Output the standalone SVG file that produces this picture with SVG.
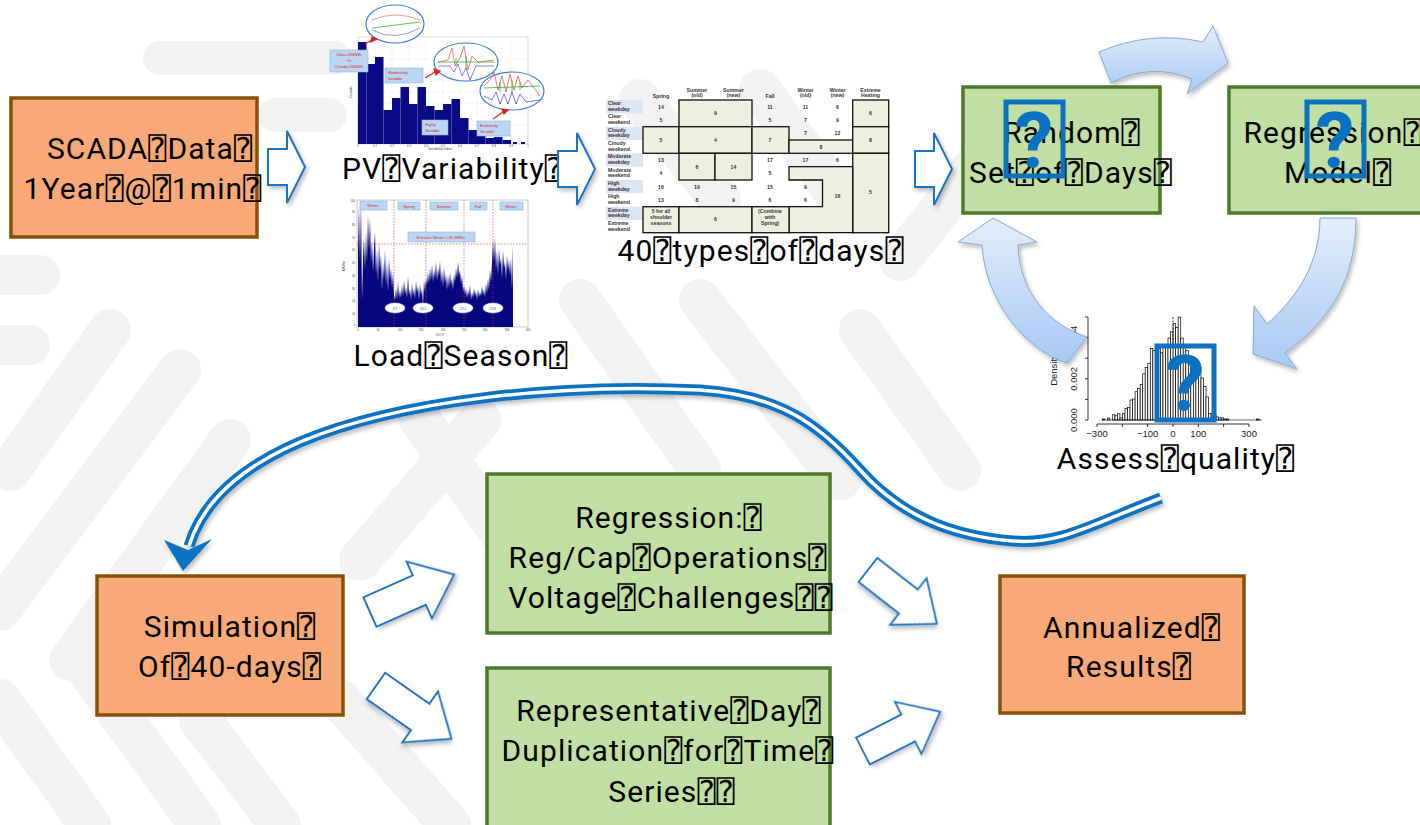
<svg xmlns="http://www.w3.org/2000/svg" width="1420" height="825" viewBox="0 0 1420 825">
<style>
.lbl{font-family:Roboto,'DejaVu Sans Mono','DejaVu Sans',sans-serif;font-size:30px;fill:#000;text-anchor:middle;letter-spacing:1.1px}
.orange{fill:#f8a977;stroke:#875208;stroke-width:3.5}
.green{fill:#c2dfa3;stroke:#4c7a28;stroke-width:3.5}
.blk{fill:#fff;stroke:#1a74c2;stroke-width:2;filter:url(#sh)}
.qbox{fill:none;stroke:#0a72c1;stroke-width:5}
.q{font-family:Roboto,'Open Sans',sans-serif;font-weight:bold;font-size:78px;fill:#0a72c1;text-anchor:middle}
.tt{font-family:'Liberation Sans',Arial,sans-serif;font-weight:bold;font-size:5.2px;fill:#333;text-anchor:middle}
.tl{font-family:'Liberation Sans',Arial,sans-serif;font-weight:bold;font-size:5.2px;fill:#333}
.cell{fill:#ebf1de;stroke:#111;stroke-width:1.3}
.tiny{font-family:'Liberation Sans',Arial,sans-serif;font-size:4px;fill:#e02020;text-anchor:middle}
.ax{font-family:'Liberation Sans',Arial,sans-serif;font-size:4px;fill:#444;text-anchor:middle}
.hax{font-family:'Liberation Sans',Arial,sans-serif;font-size:9.5px;fill:#222;text-anchor:middle}
.bg{stroke:#f2f2f2;stroke-linecap:round;fill:none}
.lbbox{fill:#b9d6f2;stroke:#8fb5e0;stroke-width:0.6}
.curv{fill:url(#gb);stroke:#8ba9cc;stroke-width:1;filter:url(#sh)}
</style>
<defs>
<filter id="sh" x="-20%" y="-20%" width="150%" height="150%"><feDropShadow dx="2" dy="3" stdDeviation="2" flood-color="#000" flood-opacity="0.25"/></filter>
<linearGradient id="gb" x1="0" y1="0" x2="0" y2="1"><stop offset="0" stop-color="#e3eefc"/><stop offset="1" stop-color="#a6c8f4"/></linearGradient>
<path id="rarrow" d="M0,-18 L19,-18 L19,-36 L37,0 L19,36 L19,18 L0,18 Z"/>
<path id="darrow" d="M0,-16 L54,-16 L54,-31 L92,0 L54,31 L54,16 L0,16 Z"/>
</defs>
<rect width="1420" height="825" fill="#fff"/>
<g id="background">
<path class="bg" stroke-width="34" d="M160,58 L335,58"/>
<path class="bg" stroke-width="34" d="M275,115 L330,115"/>
<path class="bg" stroke-width="40" d="M0,275 L40,275"/>
<path class="bg" stroke-width="40" d="M0,345 L30,345"/>
<path class="bg" stroke-width="42" d="M10,470 L110,330"/>
<path class="bg" stroke-width="42" d="M0,610 L180,370"/>
<path class="bg" stroke-width="42" d="M70,660 L230,440"/>
<path class="bg" stroke-width="42" d="M80,660 L200,825"/>
<path class="bg" stroke-width="42" d="M200,720 L280,825"/>
<path class="bg" stroke-width="42" d="M0,700 L90,825"/>
<path class="bg" stroke-width="42" d="M360,560 L480,420"/>
<path class="bg" stroke-width="42" d="M340,700 L450,825"/>
<path class="bg" stroke-width="42" d="M420,420 L520,560"/>
<path class="bg" stroke-width="42" d="M580,300 L700,470"/>
<path class="bg" stroke-width="42" d="M700,300 L840,480"/>
<path class="bg" stroke-width="42" d="M860,330 L960,470"/>
<path class="bg" stroke-width="42" d="M900,260 L980,160"/>
<path class="bg" stroke-width="42" d="M640,100 L720,200"/>
<path class="bg" stroke-width="42" d="M760,90 L840,200"/>
</g>

<g id="scada">
<rect class="orange" x="11" y="98" width="246" height="139"/>
<text class="lbl" x="150" y="159">SCADA⍰Data⍰</text>
<text class="lbl" x="143" y="199">1Year⍰@⍰1min⍰</text>
</g>

<g id="pv-variability">
<rect x="355" y="8" width="212" height="146" fill="#fff"/>
<rect x="358" y="37" width="170" height="107" fill="#fff" stroke="#bbb" stroke-width="0.5"/>
<g stroke="#e4e4e4" stroke-width="0.4">
<path d="M375,37V144M392,37V144M409,37V144M426,37V144M443,37V144M460,37V144M477,37V144M494,37V144M511,37V144M358,48H528M358,59H528M358,70H528M358,81H528M358,92H528M358,103H528M358,114H528M358,125H528M358,136H528"/>
</g>
<g fill="#0a0a86">
<rect x="358" y="42" width="8.5" height="102"/>
<rect x="366.5" y="64" width="8.5" height="80"/>
<rect x="375" y="57" width="8.5" height="87"/>
<rect x="383.5" y="110" width="8.5" height="34"/>
<rect x="392" y="98" width="8.5" height="46"/>
<rect x="400.5" y="87" width="8.5" height="57"/>
<rect x="409" y="104" width="8.5" height="40"/>
<rect x="417.5" y="87" width="8.5" height="57"/>
<rect x="426" y="106" width="8.5" height="38"/>
<rect x="434.5" y="110" width="8.5" height="34"/>
<rect x="443" y="104" width="8.5" height="40"/>
<rect x="451.5" y="99" width="8.5" height="45"/>
<rect x="460" y="118" width="8.5" height="26"/>
<rect x="468.5" y="130" width="8.5" height="14"/>
<rect x="477" y="125" width="8.5" height="19"/>
<rect x="485.5" y="138" width="8.5" height="6"/>
<rect x="494" y="137" width="8.5" height="7"/>
<rect x="502.5" y="140" width="8.5" height="4"/>
<rect x="513" y="142" width="4" height="2"/>
<rect x="521" y="142" width="4" height="2"/>
</g>
<text class="ax" x="440" y="150.3" style="font-size:3.4px">Variability Index</text>
<text class="ax" transform="translate(352,92) rotate(-90)">Counts</text>
<g class="ax" style="font-size:2.8px">
<text x="358" y="146.6">0</text><text x="375" y="146.6">0.1</text><text x="392" y="146.6">0.2</text><text x="409" y="146.6">0.3</text><text x="426" y="146.6">0.4</text><text x="443" y="146.6">0.5</text><text x="460" y="146.6">0.6</text><text x="477" y="146.6">0.7</text><text x="494" y="146.6">0.8</text><text x="511" y="146.6">0.9</text><text x="528" y="146.6">1</text>
</g>
<g fill="#fff" stroke="#3b7fd6" stroke-width="1.2">
<ellipse cx="395" cy="24" rx="29" ry="19"/>
<ellipse cx="466" cy="62" rx="32" ry="19"/>
<ellipse cx="512" cy="91" rx="32" ry="19"/>
</g>
<g fill="none" stroke-width="0.8">
<path d="M372,20 Q395,10 420,20" stroke="#f08080"/>
<path d="M372,30 Q395,42 420,28" stroke="#8080f0"/>
<path d="M372,28 L420,22" stroke="#40b040"/>
<path d="M438,62 L448,60 L452,48 L455,66 L460,58 L464,46 L468,70 L472,56 L478,62 L494,60" stroke="#f06060"/>
<path d="M438,66 L450,66 L454,72 L458,64 L462,76 L466,68 L470,80 L476,66 L494,66" stroke="#6060f0"/>
<path d="M438,62 L494,62 M456,58 V66 M466,56 V70" stroke="#30b030"/>
<path d="M484,86 L490,80 L494,72 L498,90 L502,76 L506,92 L510,74 L514,90 L518,76 L522,88 L528,80 L540,96" stroke="#f05050"/>
<path d="M484,96 L492,100 L496,92 L500,104 L504,94 L508,104 L512,92 L516,104 L520,94 L526,102 L540,100" stroke="#5050f0"/>
<path d="M484,88 L540,86 M500,82 V92 M512,80 V94 M520,82 V90" stroke="#30b030"/>
</g>
<rect class="lbbox" x="330" y="50" width="38" height="22"/>
<text class="tiny" x="349" y="56">Clear&gt;25MWh</text>
<text class="tiny" x="349" y="62">Or</text>
<text class="tiny" x="349" y="68">Cloudy&lt;10MWh</text>
<rect class="lbbox" x="385" y="68" width="38" height="15"/>
<text class="tiny" x="388" y="74" style="text-anchor:start">Moderately</text>
<text class="tiny" x="388" y="80" style="text-anchor:start">Variable</text>
<rect class="lbbox" x="422" y="120" width="26" height="15" fill="#6a7ac8"/>
<text class="tiny" x="425" y="126" style="text-anchor:start">Highly</text>
<text class="tiny" x="425" y="132" style="text-anchor:start">Variable</text>
<rect class="lbbox" x="477" y="121" width="33" height="15"/>
<text class="tiny" x="480" y="127" style="text-anchor:start">Extremely</text>
<text class="tiny" x="480" y="133" style="text-anchor:start">Variable</text>
<g stroke="#e02020" stroke-width="1.2" fill="#e02020">
<path d="M365,44 L372,40"/><path d="M372,37 L377,39 L371,42Z"/>
<path d="M425,78 L435,72"/><path d="M434,69 L440,71 L436,75Z"/>
<path d="M493,119 L503,112"/><path d="M502,109 L508,110 L504,114Z"/>
</g>
<text class="lbl" x="453" y="179">PV⍰Variability⍰</text>
</g>

<g id="load-season">
<rect x="330" y="197" width="200" height="141" fill="#fff"/>
<rect x="357" y="200" width="171" height="127" fill="#fff" stroke="#999" stroke-width="0.5"/>
<path fill="#07077f" d="M358,327 L358,250 359,205 360,262 361,200 362,300 363,258 364,238 365,270 366,232 367,262 368,214 369,250 370,218 371,262 372,240 373,272 374,248 375,232 376,275 377,250 378,282 379,243 380,270 381,255 382,290 383,262 384,280 385,250 386,285 387,262 388,292 389,258 390,280 391,268 392,288 393,272 394,295 395,300 396,288 397,299 398,282 399,298 400,290 401,298 402,285 403,296 404,280 405,294 406,287 407,298 408,276 409,295 410,289 411,300 412,283 413,296 414,288 415,299 416,281 417,293 418,286 419,300 420,284 421,295 422,289 423,305 424,280 425,292 426,278 427,285 428,272 429,283 430,268 431,280 432,265 433,282 434,270 435,278 436,262 437,281 438,268 439,276 440,261 441,283 442,270 443,287 444,267 445,283 446,274 447,290 448,275 449,288 450,272 451,285 452,278 453,290 454,274 455,282 456,268 457,278 458,262 459,276 460,270 461,284 462,275 463,292 464,285 465,295 466,288 467,298 468,290 469,296 470,285 471,300 472,292 473,298 474,288 475,296 476,291 477,300 478,289 479,297 480,292 481,296 482,286 483,295 484,289 485,297 486,283 487,293 488,278 489,290 490,270 491,282 492,262 493,240 494,262 495,238 496,270 497,250 498,275 499,248 500,265 501,258 502,278 503,250 504,268 505,262 506,280 507,255 508,270 509,260 510,276 511,258 512,290 513,244 513,327 Z"/>
<g stroke="#e03030" stroke-width="0.6" stroke-dasharray="1.5,1.5">
<path d="M394,200V327M426,200V327M464,200V327M493,200V327M357,244H528"/>
</g>
<rect class="lbbox" x="360" y="201" width="27" height="9"/>
<rect class="lbbox" x="398" y="202" width="22" height="8"/>
<rect class="lbbox" x="430" y="202" width="28" height="8"/>
<rect class="lbbox" x="470" y="202" width="17" height="8"/>
<rect class="lbbox" x="500" y="202" width="23" height="8"/>
<rect class="lbbox" x="408" y="232" width="67" height="10"/>
<text class="tiny" x="373" y="207">Winter</text>
<text class="tiny" x="409" y="207.5">Spring</text>
<text class="tiny" x="444" y="207.5">Summer</text>
<text class="tiny" x="478" y="207.5">Fall</text>
<text class="tiny" x="511" y="207.5">Winter</text>
<text class="tiny" x="441" y="238.5">Extreme Winter &gt; 65 MWhr</text>
<g fill="#fff" stroke="#dde" stroke-width="0.5">
<ellipse cx="395" cy="308" rx="10" ry="5"/><ellipse cx="423" cy="308" rx="10" ry="5"/><ellipse cx="463" cy="308" rx="10" ry="5"/><ellipse cx="493" cy="308" rx="10" ry="5"/>
</g>
<g class="tiny" style="fill:#3a80d0">
<text x="395" y="309.5">87</text><text x="423" y="309.5">161</text><text x="463" y="309.5">251</text><text x="493" y="309.5">318</text>
</g>
<text class="ax" x="440" y="336">DOY</text>
<text class="ax" transform="translate(345,266) rotate(-90)">MWhr</text>
<g class="ax" style="font-size:2.8px">
<text x="358" y="331.3">0</text><text x="378" y="331.3">50</text><text x="400" y="331.3">100</text><text x="421" y="331.3">150</text><text x="443" y="331.3">200</text><text x="464" y="331.3">250</text><text x="485" y="331.3">300</text><text x="507" y="331.3">350</text><text x="528" y="331.3">400</text>
</g>
<g class="ax" style="font-size:2.8px;text-anchor:end">
<text x="355" y="326">0</text><text x="355" y="315">10</text><text x="355" y="302">20</text><text x="355" y="290">30</text><text x="355" y="277">40</text><text x="355" y="264">50</text><text x="355" y="251">60</text><text x="355" y="239">70</text><text x="355" y="226">80</text><text x="355" y="213">90</text><text x="355" y="202">100</text>
</g>
<text class="lbl" x="461" y="366">Load⍰Season⍰</text>
</g>

<g id="types-table">
<rect x="606" y="100" width="37" height="13.3" fill="#dce6f2"/>
<rect x="606" y="126.7" width="37" height="13.3" fill="#dce6f2"/>
<rect x="606" y="153.3" width="37" height="13.3" fill="#dce6f2"/>
<rect x="606" y="180" width="37" height="13.3" fill="#dce6f2"/>
<rect x="606" y="206.7" width="37" height="13.3" fill="#dce6f2"/>
<rect class="cell" x="679" y="100" width="73" height="26.7"/>
<rect class="cell" x="852.7" y="100" width="36" height="26.7"/>
<rect class="cell" x="643" y="126.7" width="36" height="26.6"/>
<rect class="cell" x="679" y="126.7" width="73" height="26.6"/>
<rect class="cell" x="752" y="126.7" width="37" height="26.6"/>
<rect class="cell" x="789" y="140" width="63.7" height="13.3"/>
<rect class="cell" x="852.7" y="126.7" width="36" height="26.6"/>
<rect class="cell" x="679" y="153.3" width="36" height="26.7"/>
<rect class="cell" x="715" y="153.3" width="37" height="26.7"/>
<rect class="cell" x="852.7" y="153.3" width="36" height="79.4"/>
<path class="cell" d="M789,166.7 H852.7 V232.7 H789 V206.7 H822.5 V180 H789 Z"/>
<rect class="cell" x="643" y="206.7" width="36" height="26"/>
<rect class="cell" x="679" y="206.7" width="73" height="26"/>
<rect class="cell" x="752" y="206.7" width="37" height="26"/>
<g class="tt">
<text x="661" y="98">Spring</text>
<text x="697" y="91.5">Summer</text><text x="697" y="97">(old)</text>
<text x="733.5" y="91.5">Summer</text><text x="733.5" y="97">(new)</text>
<text x="770" y="98">Fall</text>
<text x="805.5" y="91.5">Winter</text><text x="805.5" y="97">(old)</text>
<text x="837.5" y="91.5">Winter</text><text x="837.5" y="97">(new)</text>
<text x="870.5" y="91.5">Extreme</text><text x="870.5" y="97">Heating</text>
</g>
<g class="tl">
<text x="608" y="105">Clear</text><text x="608" y="110.5">weekday</text>
<text x="608" y="118.3">Clear</text><text x="608" y="123.8">weekend</text>
<text x="608" y="131.7">Cloudy</text><text x="608" y="137.2">weekday</text>
<text x="608" y="145">Cloudy</text><text x="608" y="150.5">weekend</text>
<text x="608" y="158.3">Moderate</text><text x="608" y="163.8">weekday</text>
<text x="608" y="171.7">Moderate</text><text x="608" y="177.2">weekend</text>
<text x="608" y="185">High</text><text x="608" y="190.5">weekday</text>
<text x="608" y="198.3">High</text><text x="608" y="203.8">weekend</text>
<text x="608" y="211.7">Extreme</text><text x="608" y="217.2">weekday</text>
<text x="608" y="225">Extreme</text><text x="608" y="230.5">weekend</text>
</g>
<g class="tt">
<text x="661" y="108.5">14</text><text x="770" y="108.5">11</text><text x="805.5" y="108.5">11</text><text x="837.5" y="108.5">6</text>
<text x="661" y="121.8">5</text><text x="770" y="121.8">5</text><text x="805.5" y="121.8">7</text><text x="837.5" y="121.8">9</text>
<text x="715.5" y="115">9</text><text x="870.5" y="115">6</text>
<text x="805.5" y="135.2">7</text><text x="837.5" y="135.2">12</text>
<text x="661" y="142">5</text><text x="715.5" y="142">4</text><text x="770" y="142">7</text><text x="870.5" y="142">8</text><text x="821" y="148.5">8</text>
<text x="661" y="161.8">13</text><text x="770" y="161.8">17</text><text x="805.5" y="161.8">17</text><text x="837.5" y="161.8">6</text>
<text x="697" y="168.5">6</text><text x="733.5" y="168.5">14</text>
<text x="661" y="175.2">4</text><text x="770" y="175.2">5</text>
<text x="661" y="188.5">16</text><text x="697" y="188.5">19</text><text x="733.5" y="188.5">15</text><text x="770" y="188.5">15</text><text x="805.5" y="188.5">9</text>
<text x="661" y="201.8">13</text><text x="697" y="201.8">8</text><text x="733.5" y="201.8">9</text><text x="770" y="201.8">6</text><text x="805.5" y="201.8">6</text>
<text x="837.5" y="198">16</text><text x="870.5" y="194">5</text>
<text x="661" y="213">5 for all</text><text x="661" y="219">shoulder</text><text x="661" y="225">seasons</text>
<text x="715.5" y="221">6</text>
<text x="770" y="213">(Combine</text><text x="770" y="219">with</text><text x="770" y="225">Spring)</text>
</g>
<text class="lbl" x="761" y="261">40⍰types⍰of⍰days⍰</text>
</g>

<g id="random-set">
<rect class="green" x="963" y="87" width="197" height="126"/>
<text class="lbl" x="1072" y="143">Random⍰</text>
<text class="lbl" x="1071" y="183">Set⍰of⍰Days⍰</text>
<rect class="qbox" x="1006" y="102" width="57" height="74"/>
<text class="q" x="1034" y="168">?</text>
</g>

<g id="regression-model">
<rect class="green" x="1229" y="87" width="200" height="126"/>
<text class="lbl" x="1333" y="143">Regression⍰</text>
<text class="lbl" x="1338" y="183">Model⍰</text>
<rect class="qbox" x="1307" y="102" width="57" height="74"/>
<text class="q" x="1335" y="168">?</text>
</g>

<g id="assess-quality">
<g fill="#fff" stroke="#000" stroke-width="0.7">
<rect x="1102.2" y="419" width="2.53" height="1"/>
<rect x="1107.3" y="418" width="2.53" height="2"/>
<rect x="1112.3" y="414.8" width="2.53" height="5.2"/>
<rect x="1114.9" y="415.8" width="2.53" height="4.2"/>
<rect x="1117.4" y="413.7" width="2.53" height="6.3"/>
<rect x="1119.9" y="417.9" width="2.53" height="2.1"/>
<rect x="1122.4" y="413.7" width="2.53" height="6.3"/>
<rect x="1125" y="408.5" width="2.53" height="11.5"/>
<rect x="1127.5" y="407.4" width="2.53" height="12.6"/>
<rect x="1130" y="400" width="2.53" height="20"/>
<rect x="1132.6" y="399" width="2.53" height="21"/>
<rect x="1135.1" y="391.7" width="2.53" height="28.3"/>
<rect x="1137.6" y="388.5" width="2.53" height="31.5"/>
<rect x="1140.2" y="384.3" width="2.53" height="35.7"/>
<rect x="1142.7" y="373.8" width="2.53" height="46.2"/>
<rect x="1145.2" y="367.5" width="2.53" height="52.5"/>
<rect x="1147.8" y="363.3" width="2.53" height="56.7"/>
<rect x="1150.3" y="348.6" width="2.53" height="71.4"/>
<rect x="1152.8" y="350.7" width="2.53" height="69.3"/>
<rect x="1155.4" y="346.5" width="2.53" height="73.5"/>
<rect x="1157.9" y="348.6" width="2.53" height="71.4"/>
<rect x="1160.4" y="352.8" width="2.53" height="67.2"/>
<rect x="1163" y="344.4" width="2.53" height="75.6"/>
<rect x="1165.5" y="346.5" width="2.53" height="73.5"/>
<rect x="1168" y="338.1" width="2.53" height="81.9"/>
<rect x="1170.6" y="331.8" width="2.53" height="88.2"/>
<rect x="1173.1" y="323.4" width="2.53" height="96.6"/>
<rect x="1175.6" y="327.6" width="2.53" height="92.4"/>
<rect x="1178.2" y="317.1" width="2.53" height="102.9"/>
<rect x="1180.7" y="338.1" width="2.53" height="81.9"/>
<rect x="1183.2" y="346.5" width="2.53" height="73.5"/>
<rect x="1185.8" y="350.7" width="2.53" height="69.3"/>
<rect x="1188.3" y="357" width="2.53" height="63"/>
<rect x="1190.8" y="361.2" width="2.53" height="58.8"/>
<rect x="1193.4" y="365.4" width="2.53" height="54.6"/>
<rect x="1195.9" y="371.7" width="2.53" height="48.3"/>
<rect x="1198.4" y="367.5" width="2.53" height="52.5"/>
<rect x="1201" y="378" width="2.53" height="42"/>
<rect x="1203.5" y="386.4" width="2.53" height="33.6"/>
<rect x="1206" y="396.9" width="2.53" height="23.1"/>
<rect x="1208.5" y="413.7" width="2.53" height="6.3"/>
<rect x="1211.1" y="413.7" width="2.53" height="6.3"/>
<rect x="1213.6" y="414.8" width="2.53" height="5.2"/>
<rect x="1216.1" y="416.9" width="2.53" height="3.1"/>
<rect x="1218.7" y="417.9" width="2.53" height="2.1"/>
<rect x="1221.2" y="417.9" width="2.53" height="2.1"/>
<rect x="1223.7" y="419" width="2.53" height="1"/>
<rect x="1226.3" y="419" width="2.53" height="1"/>
<rect x="1256.6" y="419" width="2.53" height="1"/>
</g>
<g stroke="#000" stroke-width="0.8" fill="none">
<path d="M1088,317 V420 M1088,317 h-3 M1088,337.6 h-3 M1088,358.2 h-3 M1088,378.8 h-3 M1088,399.4 h-3 M1088,420 h-3"/>
<path d="M1097,424 H1249 M1097,424 v3 M1122.3,424 v3 M1147.6,424 v3 M1173,424 v3 M1198.3,424 v3 M1223.6,424 v3 M1249,424 v3"/>
<path d="M1102,420 H1262" stroke-width="0.6"/>
<path d="M1173,317 V345" stroke-dasharray="2,1.5"/>
</g>
<text class="hax" x="1097" y="437">−300</text>
<text class="hax" x="1147.6" y="437">−100</text>
<text class="hax" x="1173" y="437">0</text>
<text class="hax" x="1198.3" y="437">100</text>
<text class="hax" x="1249" y="437">300</text>
<text class="hax" transform="translate(1077,420) rotate(-90)">0.000</text>
<text class="hax" transform="translate(1077,378.8) rotate(-90)">0.002</text>
<text class="hax" transform="translate(1077,337.6) rotate(-90)">0.004</text>
<text class="hax" transform="translate(1057,370) rotate(-90)">Density</text>
<rect class="qbox" x="1157" y="346" width="57" height="74"/>
<text class="q" x="1185" y="411">?</text>
<text class="lbl" x="1176" y="469">Assess⍰quality⍰</text>
</g>

<g id="simulation">
<rect class="orange" x="97" y="576" width="246" height="139"/>
<text class="lbl" x="230" y="637">Simulation⍰</text>
<text class="lbl" x="230" y="677">Of⍰40-days⍰</text>
</g>

<g id="regression-ops">
<rect class="green" x="487" y="474" width="343" height="159"/>
<text class="lbl" x="669" y="528">Regression:⍰</text>
<text class="lbl" x="668" y="568">Reg/Cap⍰Operations⍰</text>
<text class="lbl" x="671" y="608">Voltage⍰Challenges⍰⍰</text>
</g>

<g id="representative-day">
<rect class="green" x="487" y="668" width="343" height="170"/>
<text class="lbl" x="669" y="721">Representative⍰Day⍰</text>
<text class="lbl" x="668" y="761">Duplication⍰for⍰Time⍰</text>
<text class="lbl" x="672" y="802">Series⍰⍰</text>
</g>

<g id="annualized">
<rect class="orange" x="1000" y="576" width="244" height="137"/>
<text class="lbl" x="1132" y="638">Annualized⍰</text>
<text class="lbl" x="1129" y="677">Results⍰</text>
</g>

<g id="connectors">
<use href="#rarrow" class="blk" transform="translate(268,167)"/>
<use href="#rarrow" class="blk" transform="translate(558,169)"/>
<use href="#rarrow" class="blk" transform="translate(915,169)"/>
<use href="#darrow" class="blk" transform="translate(370,612) rotate(-24)"/>
<use href="#darrow" class="blk" transform="translate(376,686) rotate(35)"/>
<use href="#darrow" class="blk" transform="translate(868,570) rotate(38) scale(0.95)"/>
<use href="#darrow" class="blk" transform="translate(863,751) rotate(-27) scale(0.94)"/>
<path class="curv" d="M1099,52 Q1150,30 1203,42 L1213,26 L1228,63 L1187,94 L1192,79 Q1150,62 1111,83 Z"/>
<path class="curv" d="M1320,218 L1356,218 C1356,280 1330,320 1285,353 L1297,369 L1253,354 L1254,306 L1267,324 C1300,295 1320,260 1320,218 Z"/>
<path class="curv" d="M993,218 L1037,242 L1018,245 C1020,295 1050,325 1087,337 L1067,363 C1025,350 985,300 982,245 L958,242 Z"/>
<g filter="url(#sh)">
<path d="M1161,498 C1090,525 1060,545 1013,541 C950,536 900,515 860,470 C820,425 780,395 700,390 C560,383 400,400 300,442 C230,472 200,510 189,546" fill="none" stroke="#0e72c2" stroke-width="11"/>
<path d="M1161,498 C1090,525 1060,545 1013,541 C950,536 900,515 860,470 C820,425 780,395 700,390 C560,383 400,400 300,442 C230,472 200,510 189,546" fill="none" stroke="#fff" stroke-width="3.5"/>
<path d="M183,571 L164,540 L188,550 L212,539 Z" fill="#0e72c2"/>
</g>
</g>
</svg>
